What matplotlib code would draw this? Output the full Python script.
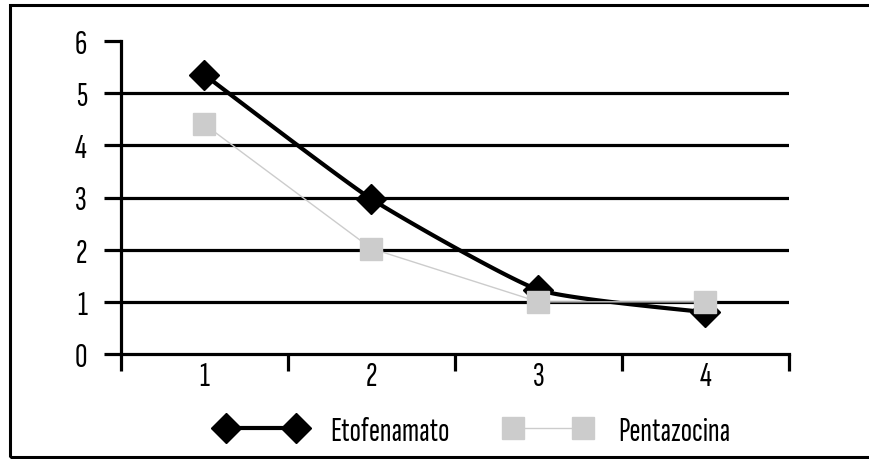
import numpy as np
import matplotlib
matplotlib.use('Agg')
import matplotlib.pyplot as plt
from matplotlib.lines import Line2D
from matplotlib.patches import Rectangle

categories = ['1', '2', '3', '4']
etofenamato = [5.35, 2.97, 1.23, 0.8]
pentazocina = [4.4, 2.02, 1.0, 1.0]
y_ticks = [0, 1, 2, 3, 4, 5, 6]

plt.rcParams['font.family'] = ['Sofia Sans Extra Condensed', 'Saira ExtraCondensed', 'DejaVu Sans']

W, H = 870, 460
fig = plt.figure(figsize=(W / 100, H / 100), dpi=100)
fig.patches.append(Rectangle((10 / W, 2 / H), 880 / W, 452 / H, transform=fig.transFigure,
                             fill=False, lw=2.2, ec='black'))

ax = fig.add_axes([121 / W, 105 / H, 668 / W, 313 / H])
x = np.arange(1, len(categories) + 1)
ax.set_xlim(0.5, len(categories) + 0.5)
ax.set_ylim(0, 6)

for s in ['top', 'right']:
    ax.spines[s].set_visible(False)
for s in ['left', 'bottom']:
    ax.spines[s].set_linewidth(2.3)

for yv in y_ticks[1:-1]:
    ax.axhline(yv, color='black', lw=2.3, zorder=1)

ax.set_yticks(y_ticks)
ax.tick_params(axis='y', direction='out', length=12.5, width=2.3, pad=12, labelsize=25)
ax.set_xticks(np.arange(0.5, len(categories) + 1, 1.0))
ax.set_xticklabels([])
ax.set_xticks(x, minor=True)
ax.set_xticklabels(categories, minor=True)
ax.tick_params(axis='x', which='major', direction='out', length=12.5, width=2.3)
ax.tick_params(axis='x', which='minor', length=0, pad=5, labelsize=25)


def smooth(xs, ys, k=12.0, n=40):
    px = np.concatenate([[xs[0]], xs, [xs[-1]]])
    py = np.concatenate([[ys[0]], ys, [ys[-1]]])
    ox, oy = [], []
    for i in range(1, len(px) - 2):
        p0, p1, p2, p3 = (np.array([px[j], py[j]]) for j in range(i - 1, i + 3))
        c1 = p1 + (p2 - p0) / k
        c2 = p2 - (p3 - p1) / k
        t = np.linspace(0, 1, n)[:, None]
        b = (1 - t) ** 3 * p1 + 3 * (1 - t) ** 2 * t * c1 + 3 * (1 - t) * t ** 2 * c2 + t ** 3 * p2
        ox.extend(b[:, 0]); oy.extend(b[:, 1])
    return np.array(ox), np.array(oy)


sx, sy = smooth(x.astype(float), np.array(etofenamato, float))
ax.plot(sx, sy, color='black', lw=3, zorder=3, solid_capstyle='round')
ax.plot(x, etofenamato, ls='none', marker='D', ms=15, color='black', zorder=4)
ax.plot(x, pentazocina, color='#cccccc', lw=1.0, zorder=5)
ax.plot(x, pentazocina, ls='none', marker='s', ms=16.5, color='#cccccc', mec='#cccccc', zorder=6)

h1 = Line2D([], [], color='black', lw=3, marker='D', ms=15)
h2 = Line2D([], [], color='#cccccc', lw=1.0, marker='s', ms=16.5, mfc='#cccccc', mec='#cccccc')
fig.legend([h1, h2], ['Etofenamato', 'Pentazocina'], loc='center', bbox_to_anchor=(473 / W, 1 - 432 / H),
           ncol=2, frameon=False, numpoints=2, handlelength=2.7, fontsize=24, columnspacing=1.6,
           handletextpad=0.75)

fig.savefig('out.png', dpi=100)
